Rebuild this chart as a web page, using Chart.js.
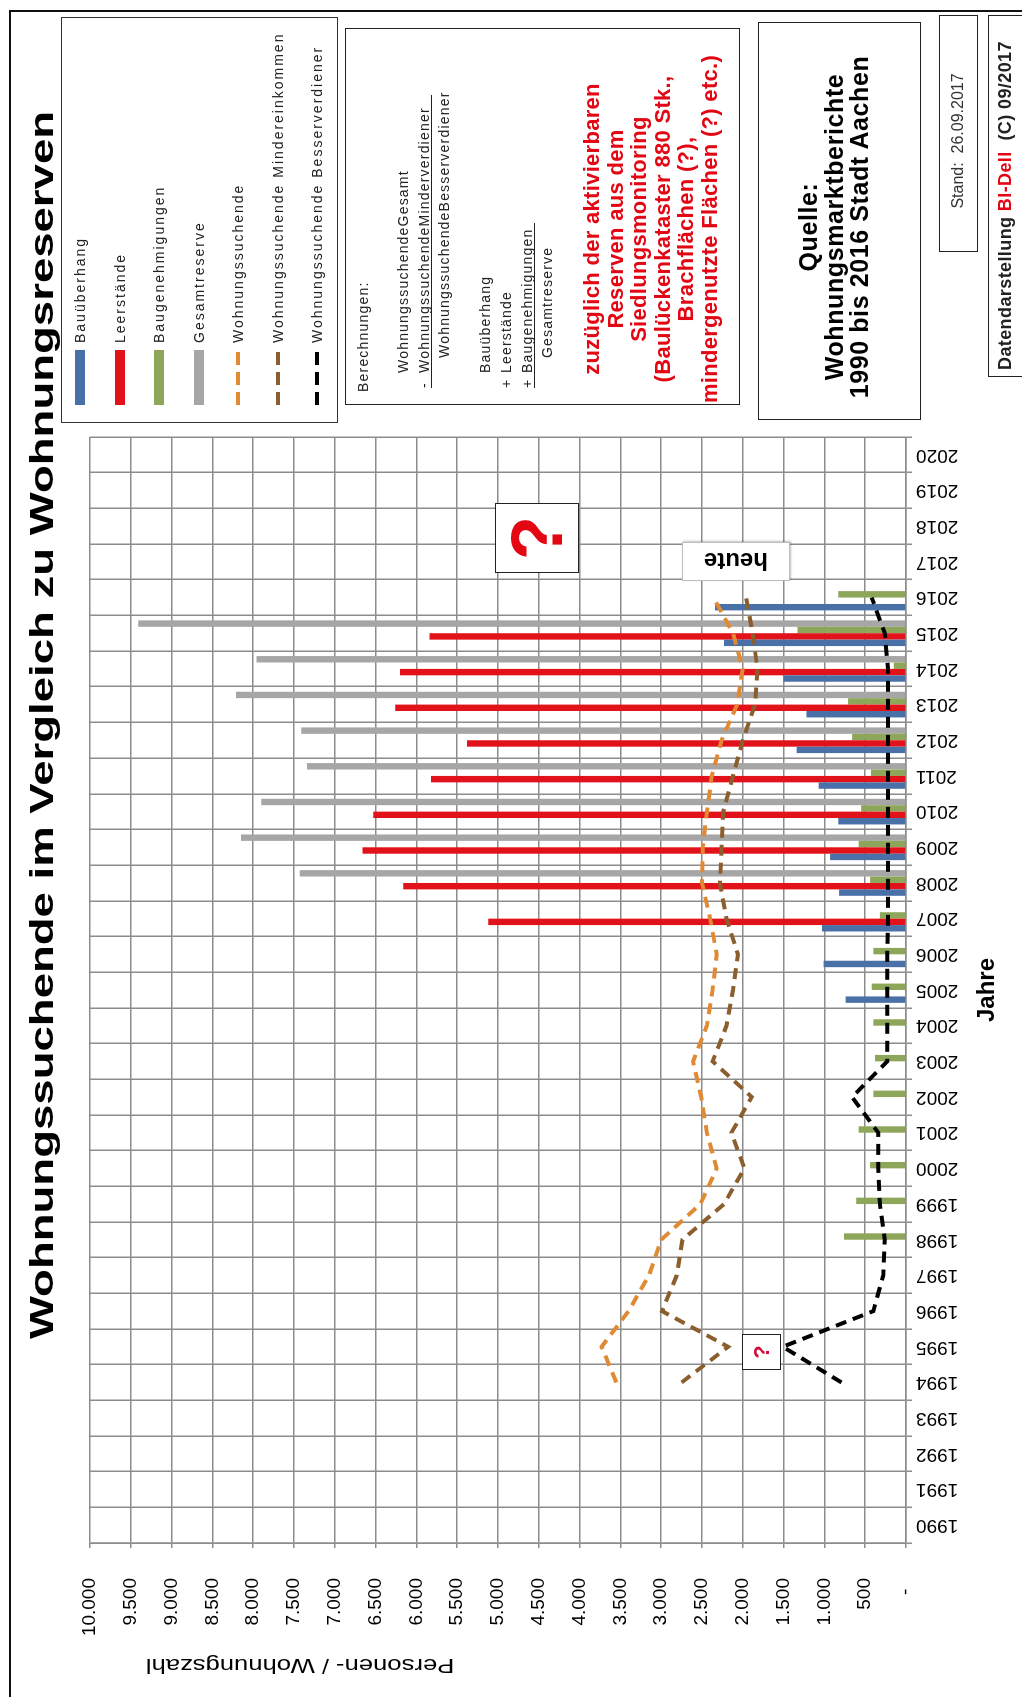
<!DOCTYPE html>
<html lang="de">
<head>
<meta charset="utf-8">
<title>Wohnungssuchende im Vergleich zu Wohnungsreserven</title>
<script src="https://cdn.jsdelivr.net/npm/chart.js@4.4.1/dist/chart.umd.min.js"></script>
<style>
  html, body { margin:0; padding:0; background:#fff; }
  body { width:1022px; height:1697px; overflow:hidden; position:relative; }
  /* the sheet is laid out in landscape and turned a quarter turn to the left */
  #sheet { position:absolute; left:0; top:0; width:1697px; height:1022px;
           transform-origin:0 0; transform:translate(0,1697px) rotate(-90deg);
           font-family:"Liberation Sans", Arial, Helvetica, sans-serif; color:#000; }
  #chart { position:absolute; left:0; top:0; }
  .frame { position:absolute; left:-10px; top:9px; width:1697px; height:1040px; box-sizing:border-box;
           border-top:2px solid #111; border-right:2px solid #111; }
  .box { position:absolute; box-sizing:border-box; border:1.5px solid #222; background:#fff; }
  .t { position:absolute; white-space:nowrap; line-height:1; }
  .calc { font-size:14px; line-height:14px; letter-spacing:1.2px; color:#222; }
  .rule { position:absolute; height:1px; background:#222; }
  .leg { position:absolute; font-size:14px; line-height:14px; letter-spacing:2px; color:#222; white-space:nowrap; }
  .sw { position:absolute; }
</style>
</head>
<body>
<div id="sheet">
  <canvas id="chart" width="1697" height="1022"></canvas>
  <div class="frame"></div>

  <div class="t" style="left:972px;top:25px;font-size:33px;font-weight:bold;transform:translateX(-50%) scaleX(1.38);transform-origin:center">Wohnungssuchende im Vergleich zu Wohnungsreserven</div>

  <div class="t" style="left:30px;top:300px;font-size:21px;transform:translate(-50%,-50%) rotate(-90deg) scaleX(1.22);transform-origin:center">Personen- / Wohnungszahl</div>

  <!-- legend -->
  <div class="box" id="legendBox" style="left:1274px;top:61px;width:406px;height:277px;border-color:#333"></div>
  <div id="legend"></div>

  <!-- calculation notes -->
  <div class="box" style="left:1292px;top:345px;width:377px;height:395px"></div>
  <div class="t calc" style="left:1305px;top:356px">Berechnungen:</div>
  <div class="t calc" style="left:1324px;top:396px">WohnungssuchendeGesamt</div>
  <div class="t calc" style="left:1309px;top:417px">-</div>
  <div class="t calc" style="left:1324px;top:417px">WohnungssuchendeMinderverdiener</div>
  <div class="rule" style="left:1309px;top:431px;width:293px"></div>
  <div class="t calc" style="left:1339px;top:437px">WohnungssuchendeBesserverdiener</div>
  <div class="t calc" style="left:1324px;top:478px">Bauüberhang</div>
  <div class="t calc" style="left:1309px;top:499px">+</div>
  <div class="t calc" style="left:1324px;top:499px">Leerstände</div>
  <div class="t calc" style="left:1309px;top:520px">+</div>
  <div class="t calc" style="left:1324px;top:520px">Baugenehmigungen</div>
  <div class="rule" style="left:1309px;top:534px;width:165px"></div>
  <div class="t calc" style="left:1339px;top:540px">Gesamtreserve</div>
  <div class="t" style="left:1468px;top:580px;transform:translateX(-50%);text-align:center;font-size:22px;line-height:23.6px;font-weight:bold;color:#e30613;letter-spacing:0.3px">zuzüglich der aktivierbaren<br>Reserven aus dem<br>Siedlungsmonitoring<br>(Baulückenkataster 880 Stk.,<br>Brachflächen (?),<br>mindergenutzte Flächen (?) etc.)</div>

  <!-- source -->
  <div class="box" style="left:1277px;top:758px;width:398px;height:163px"></div>
  <div class="t" style="left:1470px;top:796px;transform:translateX(-50%);text-align:center;font-size:25px;line-height:25.5px;font-weight:bold;letter-spacing:0.6px">Quelle:<br>Wohnungsmarktberichte<br>1990 bis 2016 Stadt Aachen</div>

  <div class="box" style="left:1445px;top:939px;width:237px;height:39px"></div>
  <div class="t" style="left:1556px;top:950px;transform:translateX(-50%);font-size:16px;color:#333">Stand:&nbsp; 26.09.2017</div>

  <div class="box" style="left:1320px;top:988px;width:362px;height:50px"></div>
  <div class="t" style="left:1327px;top:996px;font-size:18px;font-weight:bold;letter-spacing:0.4px;color:#222">Datendarstellung <span style="color:#e30613">BI-Dell</span>&nbsp; (C) 09/2017</div>

  <!-- marks inside the plot -->
  <div class="box" style="left:1116px;top:682px;width:39px;height:108px;border:1px solid #bdbdbd;box-shadow:1px 1px 2px rgba(0,0,0,0.25)"></div>
  <div class="t" style="left:1135.5px;top:736px;font-size:24px;font-weight:bold;transform:translate(-50%,-50%) rotate(-90deg);transform-origin:center">heute</div>

  <div class="box" style="left:1124px;top:495px;width:70px;height:84px;display:flex;align-items:center;justify-content:center">
    <span style="font-size:72px;line-height:72px;font-weight:bold;color:#e30613">?</span>
  </div>
  <div class="box" style="left:327px;top:742px;width:36px;height:39px;border-width:1px;display:flex;align-items:center;justify-content:center">
    <span style="font-size:22px;line-height:22px;font-weight:bold;color:#d0103a">?</span>
  </div>
</div>

<script>
// Years on the category axis
const years = ['1990','1991','1992','1993','1994','1995','1996','1997','1998','1999',
               '2000','2001','2002','2003','2004','2005','2006','2007','2008','2009',
               '2010','2011','2012','2013','2014','2015','2016','2017','2018','2019','2020'];

// Housing reserves (bars)
const bauueberhang = [null,null,null,null,null,null,null,null,null,null,
                      null,null,null,null,null,740,1010,1030,820,930,
                      830,1070,1340,1220,1500,2230,2340,null,null,null,null];
const leerstaende = [null,null,null,null,null,null,null,null,null,null,
                     null,null,null,null,null,null,null,5120,6160,6660,
                     6530,5820,5380,6260,6200,5840,null,null,null,null,null];
const baugenehmigungen = [null,null,null,null,null,null,null,null,760,610,
                          440,580,400,380,400,420,400,320,440,580,
                          550,430,660,710,150,1330,830,null,null,null,null];
const gesamtreserve = [null,null,null,null,null,null,null,null,null,null,
                       null,null,null,null,null,null,null,null,7430,8150,
                       7900,7340,7410,8210,7960,9410,null,null,null,null,null];

// Households looking for a flat (dashed lines)
const suchendeGesamt = [null,null,null,null,3550,3730,3400,3150,3000,2520,
                        2320,2440,2510,2610,2440,2370,2320,2400,2500,2490,
                        2440,2380,2260,2070,2000,2120,2360,null,null,null,null];
const suchendeMinder = [null,null,null,null,2750,2180,2990,2810,2740,2230,
                        1980,2140,1890,2370,2200,2120,2060,2200,2280,2260,
                        2240,2120,2000,1850,1820,1880,1960,null,null,null,null];
const suchendeBesser = [null,null,null,null,790,1510,400,280,260,320,
                        340,340,660,230,230,230,230,220,220,220,
                        220,220,220,220,220,260,420,null,null,null,null];

// Value axis
const valueMax = 10000;
const valueStep = 500;

const COLORS = {
  blue:'#4a70a8', red:'#e2121a', green:'#8ea65a', gray:'#a6a6a6',
  orange:'#e08a34', brown:'#8b5e2e', black:'#000000', grid:'#8c8c8c'
};

const fmtThousands = v => v === 0 ? '-  ' : String(v).replace(/\B(?=(\d{3})+(?!\d))/g, '.');

const barSeries = [
  { label:'Bauüberhang', data:bauueberhang, color:COLORS.blue },
  { label:'Leerstände', data:leerstaende, color:COLORS.red },
  { label:'Baugenehmigungen', data:baugenehmigungen, color:COLORS.green },
  { label:'Gesamtreserve', data:gesamtreserve, color:COLORS.gray }
];
const lineSeries = [
  { label:'Wohnungssuchende', data:suchendeGesamt, color:COLORS.orange },
  { label:'Wohnungssuchende Mindereinkommen', data:suchendeMinder, color:COLORS.brown },
  { label:'Wohnungssuchende Besserverdiener', data:suchendeBesser, color:COLORS.black }
];

Chart.defaults.font.family = '"Liberation Sans", Arial, Helvetica, sans-serif';
Chart.defaults.color = '#000';

const datasets = [
  ...lineSeries.map(s => ({
    type:'line', label:s.label, data:s.data, borderColor:s.color, backgroundColor:s.color,
    borderWidth:4, borderDash:[11,7], borderCapStyle:'butt', pointRadius:0, pointHoverRadius:0,
    tension:0, fill:false, spanGaps:false, order:0
  })),
  ...barSeries.map(s => ({
    type:'bar', label:s.label, data:s.data, backgroundColor:s.color, borderWidth:0,
    categoryPercentage:0.72, barPercentage:1.0, order:1
  }))
];

new Chart(document.getElementById('chart'), {
  type:'bar',
  data:{ labels:years, datasets },
  options:{
    responsive:false, animation:false, devicePixelRatio:1,
    layout:{ padding:{ left:0, right:437, top:90, bottom:10 } },
    plugins:{ legend:{ display:false }, tooltip:{ enabled:false } },
    scales:{
      x:{
        offset:true,
        grid:{ offset:true, color:COLORS.grid, lineWidth:1.5, tickLength:6 },
        border:{ color:COLORS.grid, width:1.5 },
        ticks:{ autoSkip:false, minRotation:90, maxRotation:90, padding:4, font:{ size:19 } },
        title:{ display:true, text:'Jahre', font:{ size:24, weight:'bold' }, padding:{ top:0, bottom:10 } },
        afterFit:s => { s.height = 106; }
      },
      y:{
        min:0, max:valueMax,
        ticks:{ stepSize:valueStep, maxTicksLimit:25, padding:30, font:{ size:19 }, callback:v => fmtThousands(v) },
        grid:{ color:COLORS.grid, lineWidth:1.5, tickLength:5 },
        border:{ color:COLORS.grid, width:1.5 },
        afterFit:s => { s.width = 154; }
      }
    }
  }
});

// Legend entries, one row per series
const legend = document.getElementById('legend');
const entries = [
  ...barSeries.map(s => ({ label:s.label, color:s.color, kind:'bar' })),
  ...lineSeries.map(s => ({ label:s.label, color:s.color, kind:'line' }))
];
entries.forEach((e, i) => {
  const cy = 80 + i * 39.5;
  const sw = document.createElement('div');
  sw.className = 'sw';
  if (e.kind === 'bar') {
    sw.style.cssText = `left:1292px;top:${cy - 5}px;width:55px;height:10px;background:${e.color}`;
  } else {
    sw.style.cssText = `left:1292px;top:${cy - 2}px;width:53px;height:4px;` +
      `background:repeating-linear-gradient(to right, ${e.color} 0 13px, transparent 13px 20px)`;
  }
  legend.appendChild(sw);
  const tx = document.createElement('div');
  tx.className = 'leg';
  tx.style.left = '1354px';
  tx.style.top = (cy - 7) + 'px';
  tx.textContent = e.label;
  legend.appendChild(tx);
});
</script>
</body>
</html>
